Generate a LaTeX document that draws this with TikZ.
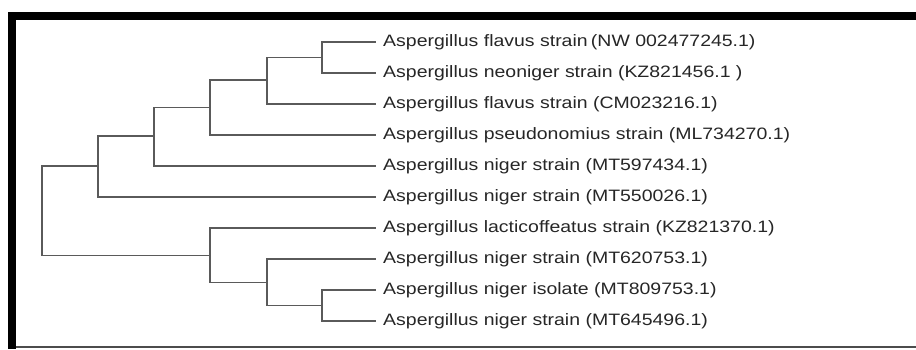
\documentclass[tikz,border=0pt]{standalone}
\usepackage{fontspec}
\setmainfont{Liberation Sans}
\definecolor{branch}{HTML}{5A5A5A}
\definecolor{labeltext}{HTML}{262626}
\begin{document}
\begin{tikzpicture}[x=1pt,y=-1pt,
  br/.style={draw=branch,line width=1.7pt,line cap=rect},
  leaf/.style={anchor=west,inner sep=0pt,text=labeltext,font=\fontsize{16.5}{18}\selectfont,xscale=1.18}]
\useasboundingbox (0,0) rectangle (916,349);
% frame
\fill[black] (8,12) rectangle (916,20);
\fill[black] (8,12) rectangle (16,349);
\fill[black!70] (16,345.5) rectangle (916,347.5);
% leaf tips
\foreach \i in {1,...,10}{
  \coordinate (t\i) at (375,{42+31*(\i-1)});
}
% labels
\node[leaf] (l1) at (383,42) {Aspergillus flavus strain\,(NW 002477245.1)};
\node[leaf] (l2) at (383,73) {Aspergillus neoniger strain (KZ821456.1 )};
\node[leaf] (l3) at (383,104) {Aspergillus flavus strain (CM023216.1)};
\node[leaf] (l4) at (383,135) {Aspergillus pseudonomius strain (ML734270.1)};
\node[leaf] (l5) at (383,166) {Aspergillus niger strain (MT597434.1)};
\node[leaf] (l6) at (383,197) {Aspergillus niger strain (MT550026.1)};
\node[leaf] (l7) at (383,228) {Aspergillus lacticoffeatus strain (KZ821370.1)};
\node[leaf] (l8) at (383,259) {Aspergillus niger strain (MT620753.1)};
\node[leaf] (l9) at (383,290) {Aspergillus niger isolate (MT809753.1)};
\node[leaf] (l10) at (383,321) {Aspergillus niger strain (MT645496.1)};
% internal nodes
\coordinate (a) at (322,57.5);
\coordinate (b) at (267,80);
\coordinate (c) at (210,107.5);
\coordinate (d) at (154,136);
\coordinate (e) at (98,166);
\coordinate (f) at (322,305.5);
\coordinate (g) at (267,282.5);
\coordinate (h) at (210,255.5);
\coordinate (r) at (42,211);
% branches
\draw[br] (a) |- (t1); \draw[br] (a) |- (t2);
\draw[br] (b) |- (a);  \draw[br] (b) |- (t3);
\draw[br] (c) |- (b);  \draw[br] (c) |- (t4);
\draw[br] (d) |- (c);  \draw[br] (d) |- (t5);
\draw[br] (e) |- (d);  \draw[br] (e) |- (t6);
\draw[br] (f) |- (t9); \draw[br] (f) |- (t10);
\draw[br] (g) |- (t8); \draw[br] (g) |- (f);
\draw[br] (h) |- (t7); \draw[br] (h) |- (g);
\draw[br] (r) |- (e);  \draw[br] (r) |- (h);
\end{tikzpicture}
\end{document}
